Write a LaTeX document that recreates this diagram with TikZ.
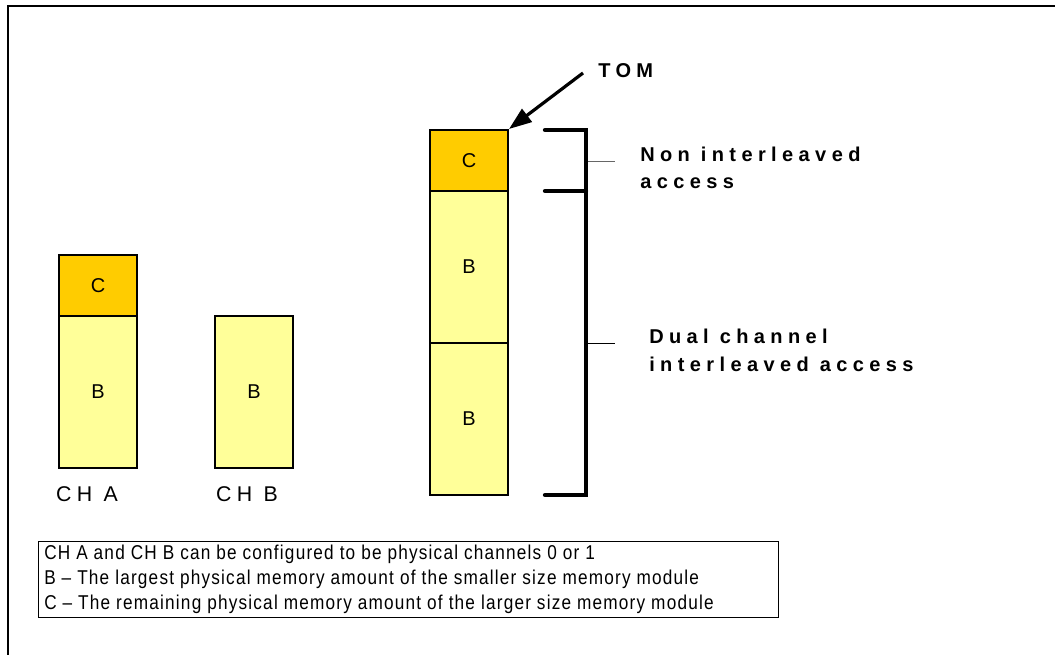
\documentclass[tikz,border=0pt]{standalone}
\usepackage{fontspec}
\setmainfont{Liberation Sans}
\newfontfamily\lblfont[LetterSpace=25]{Liberation Sans}
\newfontfamily\boldfont[LetterSpace=27,BoldFont={Liberation Sans Bold}]{Liberation Sans}
\newfontfamily\legfont[LetterSpace=6,FakeStretch=0.86]{Liberation Sans}
\usetikzlibrary{arrows.meta}
\definecolor{corange}{HTML}{FFCC00}
\definecolor{byellow}{HTML}{FFFF99}
\tikzset{
  memC/.style={draw=black, fill=corange, line width=0.8pt},
  memB/.style={draw=black, fill=byellow, line width=0.8pt},
  boxtxt/.style={font=\fontsize{15}{17}\selectfont},
  chlbl/.style={font=\lblfont\fontsize{16}{18}\selectfont},
  bigl/.style={font=\boldfont\bfseries\fontsize{15}{17}\selectfont, anchor=west, inner sep=0pt},
  legtxt/.style={anchor=west, inner sep=0pt, font=\legfont\fontsize{15}{17}\selectfont},
  brk/.style={line width=3.2pt, line cap=round},
  thin/.style={line width=0.6pt},
}
\begin{document}
\begin{tikzpicture}[x=0.75pt,y=-0.75pt]
\useasboundingbox (0,0) rectangle (1055,655);
% frame
\draw[line width=1.6pt] (8,655) -- (8,6) -- (1055,6);
% CH A
\draw[memC] (59,255) rectangle (137,316);
\draw[memB] (59,316) rectangle (137,468);
\node[boxtxt] (aC) at (98,285.5) {C};
\node[boxtxt] (aB) at (98,392) {B};
\node[chlbl] (chA) at (87,494) {CH A};
% CH B
\draw[memB] (215,316) rectangle (293,468);
\node[boxtxt] (bB) at (254,392) {B};
\node[chlbl] (chB) at (247,494) {CH B};
% stack
\draw[memC] (430,130) rectangle (508,191);
\draw[memB] (430,191) rectangle (508,343);
\draw[memB] (430,343) rectangle (508,495);
\node[boxtxt] (sC) at (469,160.5) {C};
\node[boxtxt] (sB1) at (469,267) {B};
\node[boxtxt] (sB2) at (469,419) {B};
\coordinate (tomtip) at (509,129);
% bracket
\coordinate (b1) at (545,130);
\coordinate (b2) at (545,191);
\coordinate (b3) at (545,495);
\draw[brk] (b1) -- (586,130) -- (586,495) -- (b3);
\draw[brk] (b2) -- (586,191);
\coordinate (t1s) at (588,161);
\coordinate (t1e) at (615,161);
\coordinate (t2s) at (588,343);
\coordinate (t2e) at (615,343);
\draw[thin, draw=black!60] (t1s) -- (t1e);
\draw[thin] (t2s) -- (t2e);
% labels
\node[bigl] (tom) at (598,71) {TOM};
\node[bigl] (non1) at (640,154) {Non interleaved};
\node[bigl] (non2) at (640,183) {access};
\node[bigl] (dual1) at (649,336) {Dual channel};
\node[bigl] (dual2) at (649,364) {interleaved access};
\draw[line width=2.4pt, -{Triangle[length=17pt,width=12pt]}] (583,73) -- (tomtip);
% legend
\node[draw=black, line width=0.8pt, anchor=north west, inner sep=0pt, minimum width=740*0.75pt, minimum height=76*0.75pt] (leg) at (38,541) {};
\node[legtxt] (l1) at (44,554) {CH A and CH B can be configured to be physical channels 0 or 1};
\node[legtxt] (l2) at (44,579) {B – The largest physical memory amount of the smaller size memory module};
\node[legtxt] (l3) at (44,604) {C – The remaining physical memory amount of the larger size memory module};
\end{tikzpicture}
\end{document}
